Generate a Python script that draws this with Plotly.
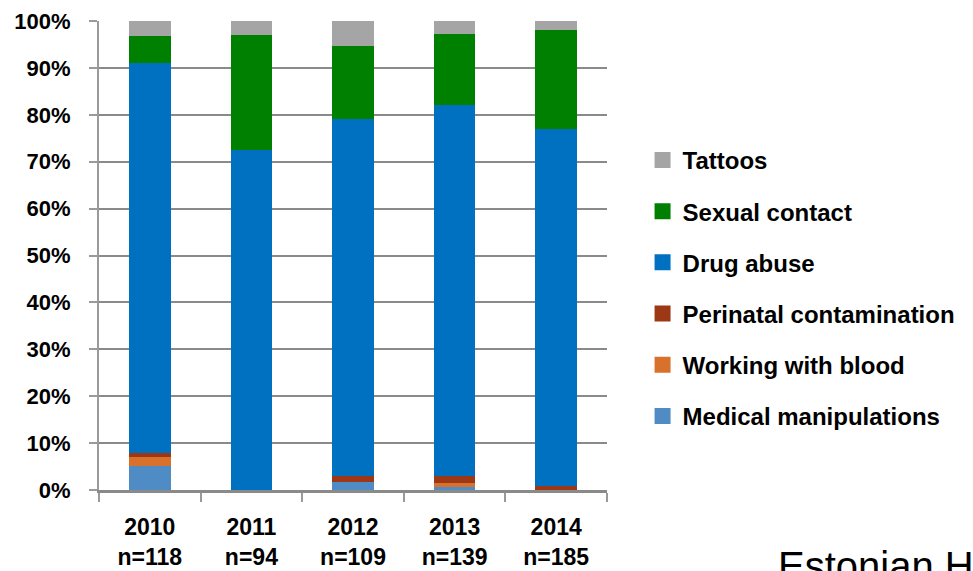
import plotly.graph_objects as go

# Share of new HIV cases by route of transmission, per year (percent)
years = ["2010", "2011", "2012", "2013", "2014"]
n_cases = [118, 94, 109, 139, 185]

medical_manipulations = [5.2, 0.0, 1.8, 0.7, 0.0]
working_with_blood = [1.8, 0.0, 0.0, 0.9, 0.0]
perinatal_contamination = [0.9, 0.0, 1.1, 1.4, 0.8]
drug_abuse = [83.1, 72.5, 76.2, 79.1, 76.1]
sexual_contact = [5.8, 24.5, 15.6, 15.2, 21.2]
tattoos = [3.2, 3.0, 5.3, 2.7, 1.9]

series_names = ["Medical manipulations", "Working with blood", "Perinatal contamination",
                "Drug abuse", "Sexual contact", "Tattoos"]
series_values = [medical_manipulations, working_with_blood, perinatal_contamination,
                 drug_abuse, sexual_contact, tattoos]
series_colors = ["#4F8BC4", "#D8712B", "#9C3816", "#0070C0", "#008000", "#A5A5A5"]

x_labels = [f"{y}<br>n={n}" for y, n in zip(years, n_cases)]

FONT = "Liberation Sans, Arial, sans-serif"

fig = go.Figure()
for name, vals, col in zip(series_names, series_values, series_colors):
    fig.add_trace(go.Bar(
        x=x_labels, y=vals, name=name, showlegend=False,
        marker=dict(color=col, line=dict(width=0)),
    ))

# Legend entries with larger square swatches, top entry = top of the stack;
# one group per entry so the group gap spaces the rows out
for name, col in zip(reversed(series_names), reversed(series_colors)):
    fig.add_trace(go.Scatter(
        x=[None], y=[None], mode="markers", name=name, legendgroup=name,
        marker=dict(symbol="square", size=17, color=col),
    ))

fig.update_layout(
    width=973, height=571,
    margin=dict(l=99, r=366, t=21, b=81, autoexpand=False),
    paper_bgcolor="white", plot_bgcolor="white",
    barmode="stack", bargap=0.59,
    font=dict(family=FONT, color="#000000"),
    legend=dict(
        x=1.07, xanchor="left", y=0.43, yanchor="middle",
        traceorder="grouped", tracegroupgap=17,
        font=dict(family=FONT, size=24, color="#000000", weight="bold"),
        itemwidth=30,
    ),
    showlegend=True,
)

fig.update_yaxes(
    range=[0, 100], dtick=10, ticksuffix="%",
    showgrid=True, gridcolor="#8A8A8A", gridwidth=2,
    showline=True, linecolor="#9A9A9A", linewidth=2,
    ticks="outside", ticklen=8, tickcolor="#9A9A9A", tickwidth=2,
    tickfont=dict(family=FONT, size=22, color="#000000", weight="bold"),
    ticklabelstandoff=14, automargin=False,
    zeroline=False,
)
fig.update_xaxes(
    showline=True, linecolor="#8A8A8A", linewidth=3,
    ticks="outside", tickson="boundaries", ticklen=9, tickcolor="#9A9A9A", tickwidth=2,
    tickfont=dict(family=FONT, size=23, color="#000000", weight="bold"),
    ticklabelstandoff=14, automargin=False, showgrid=False,
)

fig.add_annotation(
    text="Estonian H", xref="paper", yref="paper",
    x=(776 - 99) / (973 - 99 - 366), xanchor="left",
    y=-(590 - 490) / (490 - 21), yanchor="bottom",
    showarrow=False,
    font=dict(family=FONT, size=40, color="#000000"),
)

fig.write_html("out.html")
